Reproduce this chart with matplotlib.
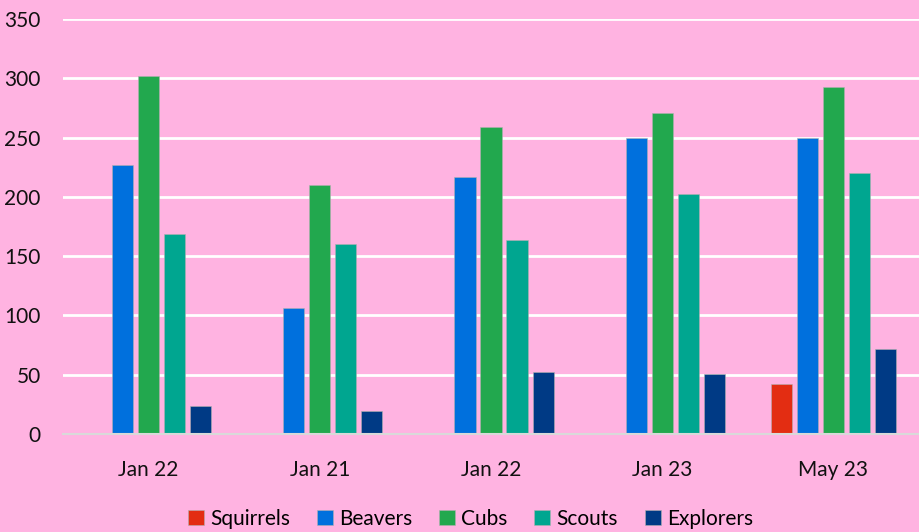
import matplotlib.pyplot as plt
import numpy as np

plt.rcParams['font.family'] = ['Lato', 'DejaVu Sans']

groups = ['Jan 22', 'Jan 21', 'Jan 22', 'Jan 23', 'May 23']
series = ['Squirrels', 'Beavers', 'Cubs', 'Scouts', 'Explorers']
squirrels = [0, 0, 0, 0, 42]
beavers = [227, 106, 217, 250, 250]
cubs = [302, 210, 259, 271, 293]
scouts = [169, 160, 164, 202, 220]
explorers = [24, 19, 52, 51, 72]
colors = ['#E32D12', '#0070DD', '#22A84E', '#00A690', '#003A85']

pink = '#FFB3E1'
fig = plt.figure(figsize=(9.19, 5.32), dpi=100, facecolor=pink)
ax = fig.add_axes([63 / 919, 1 - 434 / 532, 856 / 919, 415 / 532], facecolor=pink)

x = np.arange(len(groups))
pitch = 0.152
width = 0.123
data = [squirrels, beavers, cubs, scouts, explorers]
for i, (name, vals) in enumerate(zip(series, data)):
    ax.bar(x + (i - 2) * pitch, vals, width, color=colors[i], label=name,
           edgecolor='#B0B0B0', linewidth=0.4, zorder=3)

ax.set_xlim(-0.5, 4.5)
ax.set_ylim(0, 350)
ax.set_yticks(range(0, 351, 50))
ax.set_xticks(x)
ax.set_xticklabels(groups)
ax.grid(axis='y', color='white', linewidth=2, zorder=0)
for s in ['top', 'right', 'left']:
    ax.spines[s].set_visible(False)
ax.spines['bottom'].set_color('#D9D9D9')
ax.spines['bottom'].set_linewidth(1.5)
ax.spines['bottom'].set_zorder(4)
ax.tick_params(length=0, labelsize=15, colors='#111111')
ax.tick_params(axis='y', pad=16)
ax.tick_params(axis='x', pad=19)

ax.legend(loc='center', bbox_to_anchor=(0.476, -0.205), ncol=5, frameon=False,
          fontsize=15, handlelength=0.75, handleheight=0.75, handletextpad=0.3,
          columnspacing=1.3)

fig.savefig('out.png', dpi=100, facecolor=pink)
